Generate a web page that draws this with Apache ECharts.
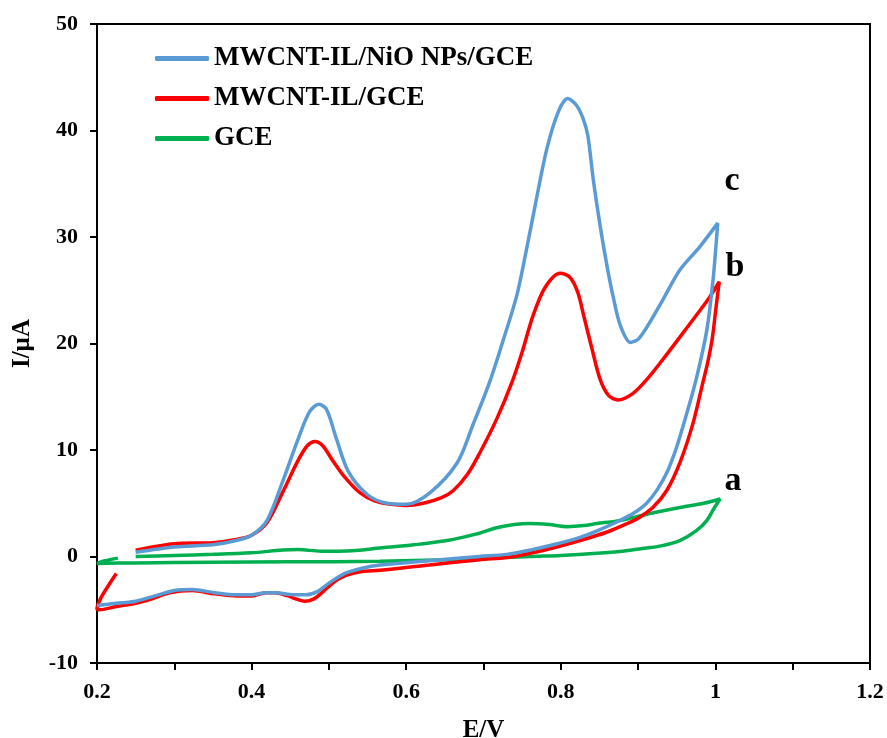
<!DOCTYPE html>
<html>
<head>
<meta charset="utf-8">
<script src="https://cdn.jsdelivr.net/npm/echarts@6/dist/echarts.min.js"></script>
<style>
  html, body { margin: 0; padding: 0; background: #fff; }
  #cv { width: 887px; height: 738px; }
</style>
</head>
<body>
<div id="cv"></div>
<script>
// cyclic voltammograms, [E (V), I (uA)] in scan order
var nioData = [
    [0.25, 0.4], [0.30, 0.9], [0.35, 1.1], [0.38, 1.5], [0.40, 2.0], [0.42, 3.4], [0.44, 7.0],
    [0.46, 11.0], [0.475, 13.6], [0.487, 14.3], [0.497, 13.8], [0.51, 11.0], [0.525, 8.0],
    [0.55, 5.8], [0.575, 5.0], [0.60, 4.9], [0.631, 6.0], [0.666, 8.8], [0.686, 12.3],
    [0.708, 16.4], [0.725, 20.2], [0.743, 24.5], [0.755, 28.6], [0.768, 33.4], [0.782, 38.3],
    [0.797, 41.8], [0.809, 43.0], [0.82, 42.4], [0.829, 41.1], [0.835, 39.5], [0.842, 35.4],
    [0.851, 31.0], [0.86, 27.2], [0.868, 24.3], [0.877, 21.7], [0.89, 20.1], [0.90, 20.4],
    [0.911, 21.5], [0.932, 24.1], [0.954, 26.9], [0.98, 29.1], [1.003, 31.3],
    [1.0, 28.5], [0.997, 26.0], [0.989, 21.3], [0.975, 16.6], [0.962, 13.2], [0.95, 10.3],
    [0.938, 8.0], [0.925, 6.3], [0.911, 5.0], [0.895, 4.1], [0.877, 3.4], [0.85, 2.5],
    [0.825, 1.8], [0.79, 1.1], [0.76, 0.6], [0.73, 0.2], [0.695, 0.0], [0.63, -0.4],
    [0.566, -0.8], [0.543, -1.1], [0.52, -1.6], [0.50, -2.5], [0.485, -3.3], [0.47, -3.6],
    [0.455, -3.6], [0.43, -3.4], [0.418, -3.4], [0.40, -3.6], [0.38, -3.6], [0.352, -3.4],
    [0.323, -3.1], [0.30, -3.2], [0.275, -3.7], [0.25, -4.2], [0.225, -4.4], [0.20, -4.6]
];

var ilData = [
    [0.25, 0.6], [0.30, 1.2], [0.35, 1.3], [0.38, 1.6], [0.40, 2.0], [0.42, 3.2], [0.44, 6.0],
    [0.46, 9.0], [0.472, 10.4], [0.482, 10.8], [0.492, 10.4], [0.505, 9.0], [0.52, 7.5],
    [0.54, 6.0], [0.56, 5.2], [0.58, 4.9], [0.60, 4.8], [0.622, 5.0], [0.645, 5.5],
    [0.661, 6.2], [0.68, 7.8], [0.695, 9.7], [0.717, 12.9], [0.737, 16.4], [0.75, 19.2],
    [0.764, 22.6], [0.78, 25.3], [0.799, 26.6], [0.812, 26.2], [0.822, 24.8], [0.829, 22.8],
    [0.84, 19.6], [0.851, 16.6], [0.862, 15.1], [0.874, 14.7], [0.893, 15.3], [0.911, 16.6],
    [0.932, 18.5], [0.954, 20.6], [0.98, 23.1], [0.992, 24.3], [1.005, 25.8],
    [1.001, 23.5], [0.996, 20.5], [0.99, 18.2], [0.984, 16.4], [0.971, 12.5], [0.954, 8.8],
    [0.937, 6.2], [0.919, 4.6], [0.90, 3.6], [0.886, 3.1], [0.86, 2.3], [0.825, 1.5],
    [0.79, 0.8], [0.76, 0.3], [0.73, -0.1], [0.695, -0.3], [0.63, -0.8], [0.566, -1.3],
    [0.543, -1.4], [0.525, -1.7], [0.513, -2.1], [0.50, -2.8], [0.491, -3.4], [0.48, -4.0],
    [0.469, -4.2], [0.458, -4.0], [0.447, -3.7], [0.43, -3.4], [0.418, -3.4], [0.40, -3.7],
    [0.381, -3.7], [0.352, -3.5], [0.323, -3.2], [0.294, -3.4], [0.27, -4.0], [0.25, -4.4],
    [0.225, -4.7], [0.203, -5.0], [0.20, -4.9], [0.205, -3.9], [0.215, -2.7], [0.225, -1.6]
];

var gceData = [
    [0.25, 0.0], [0.30, 0.1], [0.35, 0.2], [0.40, 0.35], [0.44, 0.6], [0.46, 0.65], [0.49, 0.5],
    [0.53, 0.55], [0.566, 0.8], [0.61, 1.1], [0.653, 1.5], [0.69, 2.1], [0.717, 2.7],
    [0.74, 3.0], [0.76, 3.1], [0.785, 3.0], [0.808, 2.8], [0.83, 2.9], [0.847, 3.1],
    [0.87, 3.3], [0.89, 3.6], [0.92, 4.1], [0.954, 4.6], [0.985, 5.0], [1.006, 5.4],
    [0.998, 4.5], [0.989, 3.4], [0.975, 2.4], [0.954, 1.5], [0.93, 1.0], [0.911, 0.8],
    [0.88, 0.5], [0.847, 0.3], [0.80, 0.1], [0.76, 0.0], [0.70, -0.2], [0.653, -0.3],
    [0.566, -0.45], [0.45, -0.5], [0.35, -0.55], [0.25, -0.6], [0.20, -0.65], [0.21, -0.4],
    [0.227, -0.15]
];

var seriesNames = ['MWCNT-IL/NiO NPs/GCE', 'MWCNT-IL/GCE', 'GCE'];
var seriesColors = ['#5B9BD5', '#FF0000', '#00B050'];
var curveLabels = [['c', 732, 181], ['b', 735, 267], ['a', 733, 481]];

var font = 'Liberation Serif';
var myChart = echarts.init(document.getElementById('cv'));

var option = {
    animation: false,
    grid: {
        left: 97, right: 17, top: 24, bottom: 75,
        outerBoundsMode: 'none',
        show: true, borderColor: '#000', borderWidth: 2
    },
    legend: {
        orient: 'vertical',
        left: 150, top: 40,
        itemWidth: 54, itemHeight: 5, itemGap: 13,
        icon: 'roundRect',
        textStyle: { fontFamily: font, fontWeight: 'bold', fontSize: 27, color: '#000', lineHeight: 27 },
        data: seriesNames
    },
    xAxis: {
        type: 'value',
        min: 0.2, max: 1.2, interval: 0.2,
        name: 'E/V', nameLocation: 'middle', nameGap: 55,
        nameTextStyle: { fontFamily: font, fontWeight: 'bold', fontSize: 25, color: '#000' },
        axisLine: { onZero: false, lineStyle: { color: '#000', width: 2 } },
        axisTick: { inside: false, length: 7, lineStyle: { color: '#000', width: 2 } },
        minorTick: { show: true, splitNumber: 2, length: 7, lineStyle: { color: '#000', width: 2 } },
        axisLabel: { fontFamily: font, fontWeight: 'bold', fontSize: 22, color: '#000', margin: 18 },
        splitLine: { show: false }
    },
    yAxis: {
        type: 'value',
        min: -10, max: 50, interval: 10,
        name: 'I/µA', nameLocation: 'middle', nameGap: 62, nameRotate: 90,
        nameTextStyle: { fontFamily: font, fontWeight: 'bold', fontSize: 25, color: '#000' },
        axisLine: { onZero: false, lineStyle: { color: '#000', width: 2 } },
        axisTick: { inside: false, length: 7, lineStyle: { color: '#000', width: 2 } },
        axisLabel: { fontFamily: font, fontWeight: 'bold', fontSize: 22, color: '#000', margin: 19 },
        splitLine: { show: false }
    },
    graphic: curveLabels.map(function (l) {
        return {
            type: 'text', x: l[1], y: l[2],
            style: {
                text: l[0], fill: '#000',
                font: 'bold 34px "' + font + '"',
                textAlign: 'center', textVerticalAlign: 'middle'
            }
        };
    }),
    series: [nioData, ilData, gceData].map(function (d, i) {
        return {
            name: seriesNames[i],
            type: 'line',
            data: d,
            smooth: 0.3,
            showSymbol: false,
            symbol: 'none',
            color: seriesColors[i],
            lineStyle: { width: 3.5, color: seriesColors[i] },
            z: 3 - i
        };
    })
};

myChart.setOption(option);
</script>
</body>
</html>
